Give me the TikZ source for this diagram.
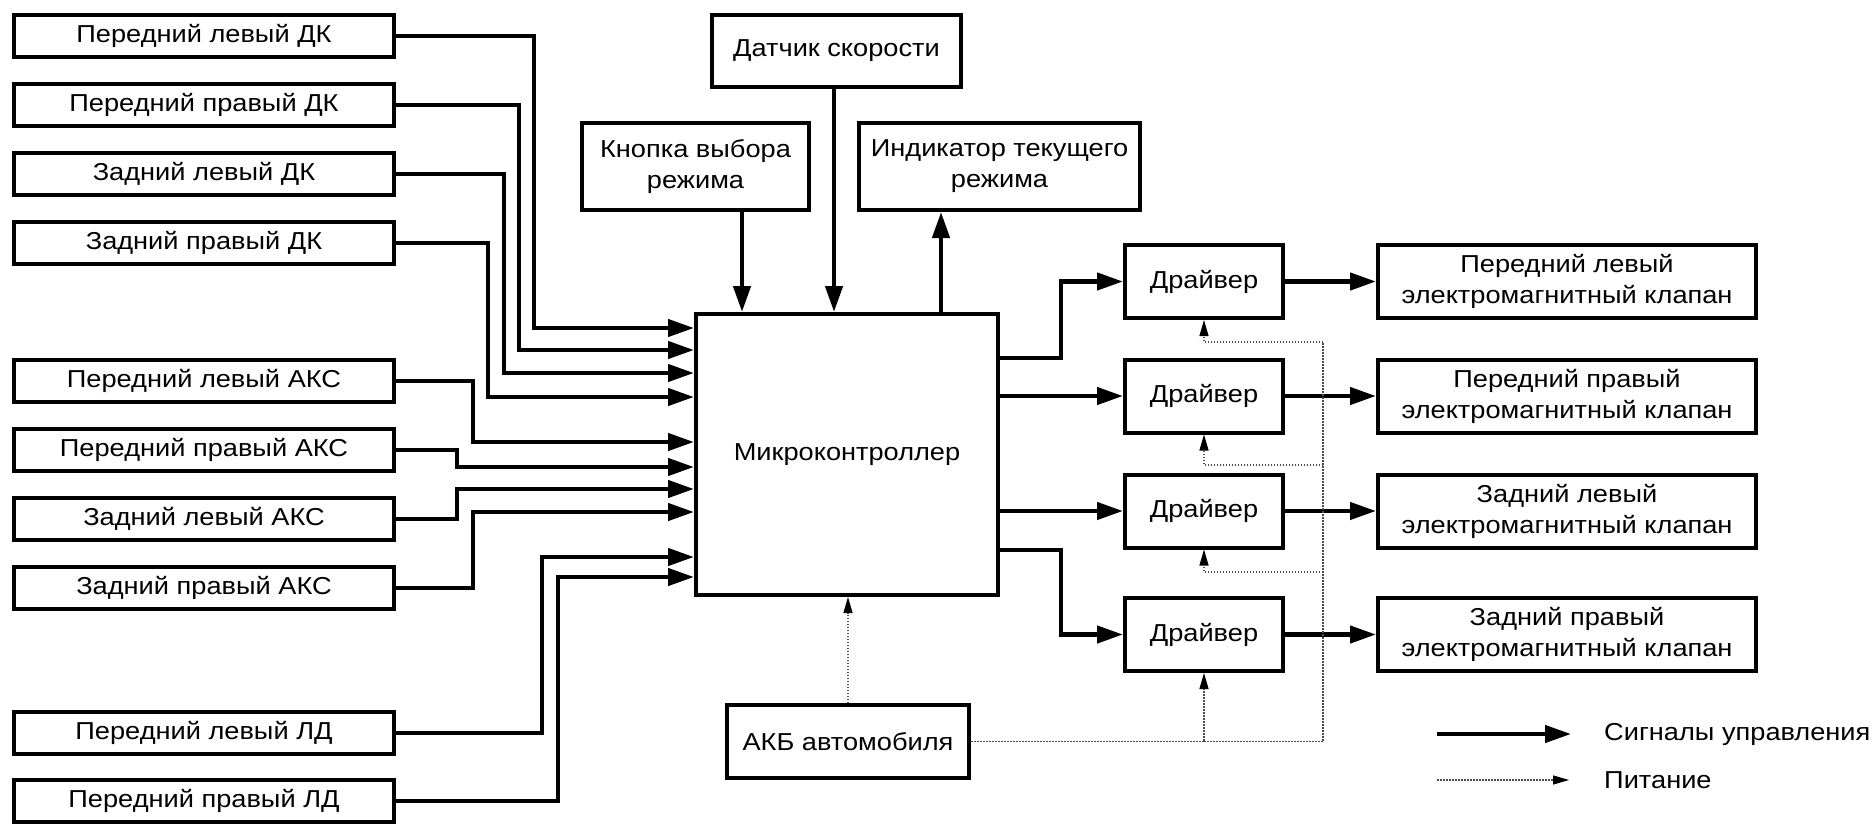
\documentclass[tikz,border=0pt]{standalone}
\usepackage{fontspec}
\setmainfont{Liberation Sans}[FakeStretch=1.11]
\usetikzlibrary{arrows.meta,calc}
\tikzset{
  blk_n/.style = {draw=black, line width=4pt, align=center, inner sep=0pt, text centered, font=\fontsize{24.5}{31}\selectfont},
  blk_s/.style = {blk_n, minimum width=380pt, minimum height=42pt},
  blk_d/.style = {blk_n, minimum width=158pt, minimum height=73pt},
  blk_k/.style = {blk_n, minimum width=378pt, minimum height=73pt},
  lbl_n/.style = {inner sep=0pt, anchor=west, font=\fontsize{24.5}{31}\selectfont},
  sig_l/.style = {line width=4.4pt, -{Triangle[length=26pt,width=17pt]}},
  pwr_l/.style = {line width=1.2pt, black!70, dash pattern=on 1.5pt off 1.5pt, -{Triangle[length=16pt,width=9pt,color=black]}}
}

\begin{document}
\begin{tikzpicture}[x=1pt, y=-1pt]
	\useasboundingbox (0,0) rectangle (1874,825);
	% datchiki
	\node [blk_s] (dk_fl) at (204,36) {Передний левый ДК};
	\node [blk_s] (dk_fr) at (204,105) {Передний правый ДК};
	\node [blk_s] (dk_rl) at (204,174) {Задний левый ДК};
	\node [blk_s] (dk_rr) at (204,243) {Задний правый ДК};
	\node [blk_s] (aks_fl) at (204,381) {Передний левый АКС};
	\node [blk_s] (aks_fr) at (204,450) {Передний правый АКС};
	\node [blk_s] (aks_rl) at (204,519) {Задний левый АКС};
	\node [blk_s] (aks_rr) at (204,588) {Задний правый АКС};
	\node [blk_s] (ld_fl) at (204,733) {Передний левый ЛД};
	\node [blk_s] (ld_fr) at (204,801) {Передний правый ЛД};
	% centr
	\node [blk_n, minimum width=302pt, minimum height=281pt] (mcu) at (847,454.5) {Микроконтроллер};
	\node [blk_n, minimum width=249pt, minimum height=72pt] (spd) at (836.5,51) {Датчик скорости};
	\node [blk_n, minimum width=227pt, minimum height=87pt] (btn) at (695.5,166.5) {Кнопка выбора\\режима};
	\node [blk_n, minimum width=281pt, minimum height=87pt] (ind) at (999.5,166.5) {Индикатор текущего\\режима};
	\node [blk_n, minimum width=242pt, minimum height=73pt] (akb) at (848,741.5) {АКБ автомобиля};
	% drajvery i klapany
	\node [blk_d] (drv1) at (1204,281.5) {Драйвер};
	\node [blk_d] (drv2) at (1204,396) {Драйвер};
	\node [blk_d] (drv3) at (1204,511) {Драйвер};
	\node [blk_d] (drv4) at (1204,634.5) {Драйвер};
	\node [blk_k] (kl1) at (1567,281.5) {Передний левый\\электромагнитный клапан};
	\node [blk_k] (kl2) at (1567,396) {Передний правый\\электромагнитный клапан};
	\node [blk_k] (kl3) at (1567,511) {Задний левый\\электромагнитный клапан};
	\node [blk_k] (kl4) at (1567,634.5) {Задний правый\\электромагнитный клапан};

	% vhody
	\draw [sig_l] (dk_fl.east) -| (534,328) -- (mcu.west |- 0,328);
	\draw [sig_l] (dk_fr.east) -| (519,350) -- (mcu.west |- 0,350);
	\draw [sig_l] (dk_rl.east) -| (504,373) -- (mcu.west |- 0,373);
	\draw [sig_l] (dk_rr.east) -| (488,397) -- (mcu.west |- 0,397);
	\draw [sig_l] (aks_fl.east) -| (473,442) -- (mcu.west |- 0,442);
	\draw [sig_l] (aks_fr.east) -| (457,467) -- (mcu.west |- 0,467);
	\draw [sig_l] (aks_rl.east) -| (457,489) -- (mcu.west |- 0,489);
	\draw [sig_l] (aks_rr.east) -| (473,512) -- (mcu.west |- 0,512);
	\draw [sig_l] (ld_fl.east) -| (542,557) -- (mcu.west |- 0,557);
	\draw [sig_l] (ld_fr.east) -| (558,577) -- (mcu.west |- 0,577);
	\draw [sig_l] (btn.south -| 742,0) -- (mcu.north -| 742,0);
	\draw [sig_l] (spd.south -| 834,0) -- (mcu.north -| 834,0);
	\draw [sig_l] (mcu.north -| 941,0) -- (ind.south -| 941,0);

	% vyhody
	\draw [sig_l] (mcu.east |- 0,358) -- (1061,358) |- (drv1.west);
	\draw [sig_l] (mcu.east |- drv2.west) -- (drv2.west);
	\draw [sig_l] (mcu.east |- drv3.west) -- (drv3.west);
	\draw [sig_l] (mcu.east |- 0,550) -- (1061,550) |- (drv4.west);
	\draw [sig_l] (drv1) -- (kl1);
	\draw [sig_l] (drv2) -- (kl2);
	\draw [sig_l] (drv3) -- (kl3);
	\draw [sig_l] (drv4) -- (kl4);

	% pitanie
	\coordinate (pb1) at (1323,342);
	\coordinate (pb2) at (1323,465);
	\coordinate (pb3) at (1323,572);
	\draw [pwr_l] (akb.north) -- (akb.north |- mcu.south);
	\draw [pwr_l] (akb.east) -| (drv4.south);
	\draw [pwr_l, -] (drv4.south |- akb.east) -| (pb1);
	\draw [pwr_l] (pb1) -| (drv1.south);
	\draw [pwr_l] (pb2) -| (drv2.south);
	\draw [pwr_l] (pb3) -| (drv3.south);

	% legenda
	\node [lbl_n] (lt_s) at (1604,734) {Сигналы управления};
	\node [lbl_n] (lt_p) at (1604,780) {Питание};
	\coordinate (lg_s) at (1437,734);
	\coordinate (lg_p) at (1437,780);
	\draw [sig_l] (lg_s) -- ([xshift=-33pt]lt_s.west);
	\draw [pwr_l] (lg_p) -- ([xshift=-35pt]lt_p.west);
\end{tikzpicture}
\end{document}
